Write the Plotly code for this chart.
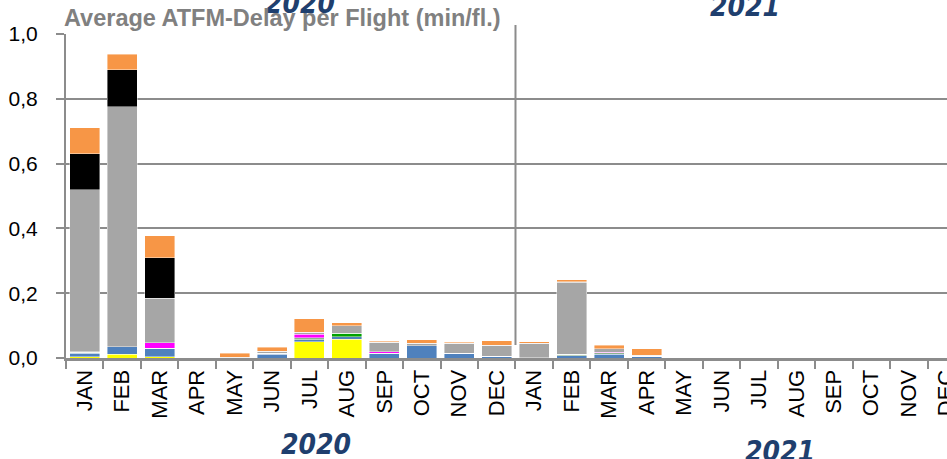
import plotly.graph_objects as go

months = ["JAN", "FEB", "MAR", "APR", "MAY", "JUN", "JUL", "AUG", "SEP", "OCT", "NOV", "DEC"]
years = ["2020", "2021"]
categories = [f"{m} {y}" for y in years for m in months]
tick_text = months + months

yellow = [0.004, 0.012, 0.004, 0, 0, 0, 0.050, 0.058, 0, 0, 0, 0,
          0, 0, 0, 0, 0, 0, 0, 0, 0, 0, 0, 0]
blue = [0.010, 0.022, 0.024, 0, 0, 0.012, 0.006, 0.008, 0.013, 0.038, 0.015, 0.005,
        0.001, 0.007, 0.012, 0.005, 0, 0, 0, 0, 0, 0, 0, 0]
light_green = [0.003, 0.001, 0.002, 0, 0, 0.003, 0.006, 0, 0.002, 0, 0, 0,
               0, 0.005, 0.004, 0, 0, 0, 0, 0, 0, 0, 0, 0]
dark_green = [0, 0, 0, 0, 0, 0, 0, 0.010, 0, 0, 0, 0,
              0, 0, 0, 0, 0, 0, 0, 0, 0, 0, 0, 0]
magenta = [0.002, 0, 0.017, 0, 0, 0, 0.012, 0, 0.005, 0, 0, 0,
           0, 0, 0.002, 0, 0, 0, 0, 0, 0, 0, 0, 0]
gray = [0.501, 0.740, 0.138, 0, 0.002, 0.006, 0.005, 0.023, 0.029, 0.008, 0.031, 0.034,
        0.045, 0.222, 0.010, 0.003, 0, 0, 0, 0, 0, 0, 0, 0]
black = [0.110, 0.114, 0.124, 0, 0, 0, 0, 0, 0, 0, 0, 0,
         0, 0.002, 0, 0, 0, 0, 0, 0, 0, 0, 0, 0]
orange = [0.080, 0.049, 0.068, 0, 0.013, 0.012, 0.042, 0.010, 0.002, 0.010, 0.002, 0.014,
          0.004, 0.005, 0.012, 0.020, 0, 0, 0, 0, 0, 0, 0, 0]

series = [
    ("yellow", yellow, "#ffff00"),
    ("blue", blue, "#4f81bd"),
    ("light green", light_green, "#8fb48f"),
    ("dark green", dark_green, "#00a000"),
    ("magenta", magenta, "#ff00ff"),
    ("gray", gray, "#a6a6a6"),
    ("black", black, "#000000"),
    ("orange", orange, "#f79646"),
]

fig = go.Figure()
for name, vals, col in series:
    fig.add_trace(go.Bar(
        x=categories, y=vals, name=name,
        marker=dict(color=col, line=dict(width=0.6, color="rgba(255,255,255,0.7)")),
        hoverinfo="x+y",
    ))

W, H = 947, 459
L, T, B = 66, 34, 101
PW = W - L
PH = H - T - B

def px(x):
    return (x - L) / PW

def py(y):
    return (T + PH - y) / PH

grid = "#8c8c8c"
year_font = dict(family="Liberation Sans Narrow, DejaVu Sans Condensed, Arial Narrow, sans-serif",
                 size=28, color="#1f3f6e")

fig.update_layout(
    width=W, height=H,
    margin=dict(l=L, r=0, t=T, b=B, pad=0, autoexpand=False),
    barmode="stack", bargap=0.2,
    showlegend=False,
    separators=", ",
    plot_bgcolor="white", paper_bgcolor="white",
    font=dict(family="Liberation Sans, Arial, sans-serif", color="black"),
    xaxis=dict(
        type="category", categoryorder="array", categoryarray=categories,
        tickmode="array", tickvals=categories, ticktext=tick_text,
        tickangle=-90, tickfont=dict(size=22, color="black"),
        tickson="boundaries", ticks="outside", ticklen=8, tickwidth=2, tickcolor=grid,
        showline=True, linecolor=grid, linewidth=3,
        showgrid=False, zeroline=False, automargin=False,
        range=[-0.5, 23.02],
    ),
    yaxis=dict(
        range=[0, 1], tickvals=[0, 0.2, 0.4, 0.6, 0.8, 1.0], tickformat=".1f",
        tickfont=dict(size=21, color="black"),
        ticks="outside", ticklen=8, tickwidth=2, tickcolor=grid,
        ticklabelstandoff=14,
        showgrid=True, gridcolor=grid, gridwidth=2,
        showline=True, linecolor=grid, linewidth=2,
        zeroline=False, automargin=False,
    ),
    shapes=[dict(type="line", xref="x", yref="paper", x0=11.5, x1=11.5, y0=py(345), y1=py(25),
                 line=dict(color=grid, width=2))],
    annotations=[
        dict(text="<b><i>2020</i></b>", xref="paper", yref="paper", x=px(300), y=py(3),
             xanchor="center", yanchor="middle", showarrow=False, font=year_font),
        dict(text="<b><i>2021</i></b>", xref="paper", yref="paper", x=px(745), y=py(6),
             xanchor="center", yanchor="middle", showarrow=False, font=year_font),
        dict(text="<b>Average ATFM-Delay per Flight (min/fl.)</b>", xref="paper", yref="paper",
             x=px(62), y=py(18), xanchor="left", yanchor="middle", showarrow=False,
             font=dict(family="Liberation Sans, Arial, sans-serif", size=23.5, color="#808080")),
        dict(text="<b><i>2020</i></b>", xref="paper", yref="paper", x=px(316), y=py(444),
             xanchor="center", yanchor="middle", showarrow=False, font=year_font),
        dict(text="<b><i>2021</i></b>", xref="paper", yref="paper", x=px(780), y=py(451),
             xanchor="center", yanchor="middle", showarrow=False, font=year_font),
    ],
)

fig.write_html(
    "out.html",
    config={"displayModeBar": False},
    post_script="document.body.style.margin='0';document.body.style.overflow='hidden';",
)
